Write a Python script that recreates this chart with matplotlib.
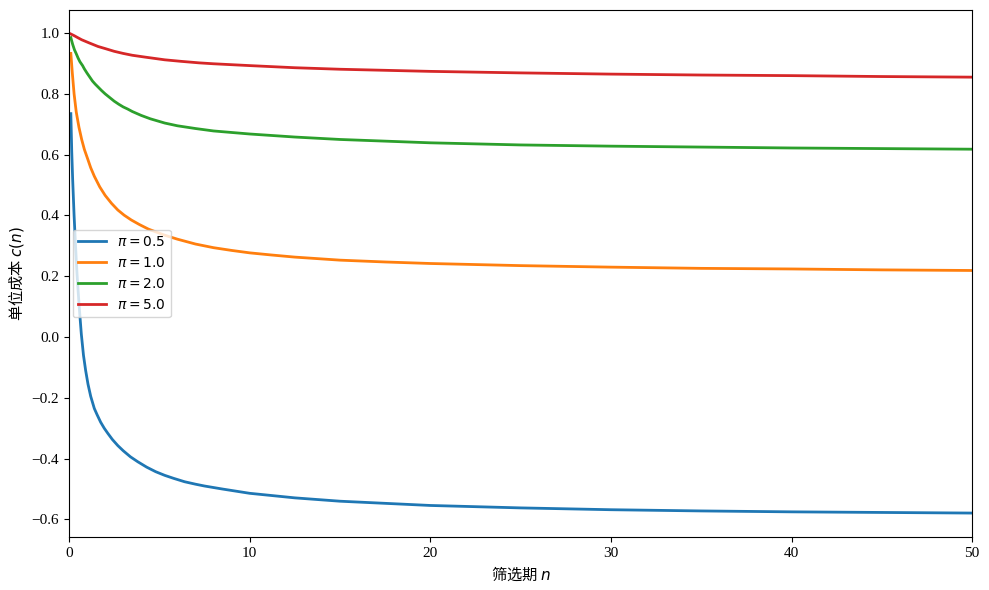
import matplotlib
matplotlib.use("Agg")
import matplotlib.pyplot as plt

plt.rcParams["font.family"] = ["Liberation Serif", "Noto Sans CJK SC", "DejaVu Sans"]
plt.rcParams["mathtext.fontset"] = "dejavusans"
plt.rcParams["axes.unicode_minus"] = True

# readings taken off the reference curves
n_05 = [0.1, 0.15, 0.2, 0.28, 0.36, 0.44, 0.55, 0.68, 0.8, 0.92, 1.05, 1.2, 1.4,
        1.55, 1.75, 1.95, 2.15, 2.4, 2.7, 3.0, 3.4, 3.8, 4.3, 4.8, 5.3, 5.8,
        6.4, 7.0, 7.5, 8.5, 10, 12.5, 15, 20, 25, 30, 35, 40, 45, 50]
c_05 = [0.735, 0.61, 0.52, 0.40, 0.30, 0.21, 0.11, 0.01, -0.06, -0.11, -0.155,
        -0.195, -0.235, -0.255, -0.28, -0.30, -0.317, -0.337, -0.357, -0.374,
        -0.394, -0.410, -0.428, -0.443, -0.455, -0.465, -0.476, -0.484, -0.490,
        -0.500, -0.514, -0.529, -0.540, -0.554, -0.562, -0.568, -0.572, -0.575,
        -0.577, -0.579]

n_10 = [0.1, 0.18, 0.28, 0.4, 0.55, 0.7, 0.85, 1.05, 1.2, 1.4, 1.7, 2.0, 2.35,
        2.7, 3.05, 3.45, 3.9, 4.4, 5.3, 6.0, 7.0, 8.0, 9.0, 10, 11.2, 12.5, 15,
        17.5, 20, 25, 30, 35, 40, 45, 50]
c_10 = [0.933, 0.87, 0.80, 0.74, 0.69, 0.65, 0.617, 0.583, 0.557, 0.529, 0.494,
        0.466, 0.440, 0.418, 0.401, 0.385, 0.370, 0.355, 0.335, 0.322, 0.306,
        0.294, 0.285, 0.277, 0.270, 0.263, 0.253, 0.247, 0.242, 0.235, 0.230,
        0.226, 0.224, 0.221, 0.219]

n_20 = [0.1, 0.2, 0.3, 0.4, 0.5, 0.6, 0.75, 0.85, 1.0, 1.15, 1.3, 1.45, 1.6,
        1.8, 2.0, 2.25, 2.5, 2.75, 3.0, 3.25, 3.5, 4.0, 4.5, 5.3, 6.0, 7.0, 8.0,
        9.0, 10, 12.5, 15, 20, 25, 30, 35, 40, 45, 50]
c_20 = [0.985, 0.963, 0.945, 0.932, 0.918, 0.906, 0.893, 0.882, 0.868, 0.855,
        0.842, 0.832, 0.823, 0.811, 0.800, 0.788, 0.776, 0.766, 0.757, 0.750,
        0.742, 0.729, 0.718, 0.704, 0.695, 0.686, 0.678, 0.673, 0.668, 0.658,
        0.650, 0.639, 0.632, 0.628, 0.625, 0.622, 0.620, 0.618]

n_50 = [0.1, 0.2, 0.3, 0.45, 0.7, 0.9, 1.1, 1.35, 1.6, 2.0, 2.5, 3.0, 3.5, 4.2,
        5.3, 6.2, 7.2, 8.0, 9.0, 10, 12.5, 15, 20, 25, 30, 35, 40, 45, 50]
c_50 = [0.997, 0.994, 0.991, 0.986, 0.978, 0.973, 0.968, 0.962, 0.956, 0.949,
        0.940, 0.933, 0.927, 0.921, 0.912, 0.907, 0.902, 0.899, 0.896, 0.893,
        0.886, 0.881, 0.874, 0.869, 0.865, 0.862, 0.860, 0.857, 0.855]

pi_values = [0.5, 1.0, 2.0, 5.0]
series = [(n_05, c_05), (n_10, c_10), (n_20, c_20), (n_50, c_50)]

fig, ax = plt.subplots(figsize=(9.89, 5.9), dpi=100)
for pi, (n, c) in zip(pi_values, series):
    ax.plot(n, c, linewidth=2, label=rf"$\pi={pi:.1f}$")

ax.set_xlim(0, 50)
ax.tick_params(labelsize=11)
ax.set_xlabel(r"筛选期 $n$", family="Noto Sans CJK SC", fontsize=11)
ax.set_ylabel(r"单位成本 $c(n)$", family="Noto Sans CJK SC", fontsize=11)
leg = ax.legend(loc="center left", borderaxespad=0.25, prop={"family": "DejaVu Sans", "size": 10})
fig.subplots_adjust(left=0.0698, right=0.983, top=0.983, bottom=0.0898)
fig.savefig("out.png", dpi=100)
